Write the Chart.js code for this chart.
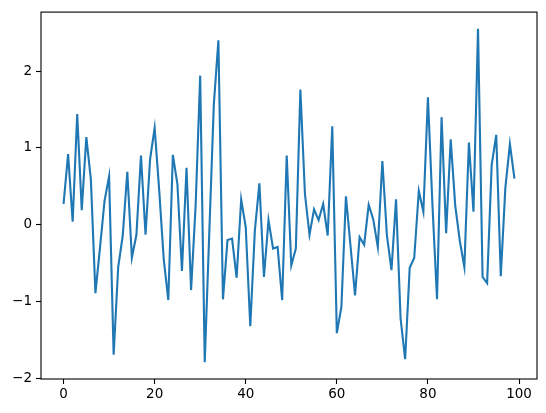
<!DOCTYPE html>
<html>
<head>
<meta charset="utf-8">
<script src="https://cdn.jsdelivr.net/npm/chart.js@4"></script>
<style>
  html, body { margin: 0; padding: 0; background: #fff; }
  #wrap { width: 546px; height: 413px; }
</style>
</head>
<body>
<div id="wrap"><canvas id="chart"></canvas></div>
<script>
// values, one per index 0..99
const values = [
  0.27, 0.92, 0.04, 1.44, 0.19, 1.14, 0.59, -0.89, -0.30, 0.31,
  0.63, -1.69, -0.55, -0.14, 0.69, -0.43, -0.13, 0.90, -0.13, 0.85,
  1.26, 0.45, -0.45, -0.98, 0.91, 0.53, -0.60, 0.74, -0.85, 0.25,
  1.94, -1.79, -0.10, 1.57, 2.40, -0.97, -0.20, -0.18, -0.69, 0.33,
  -0.03, -1.32, -0.08, 0.54, -0.68, 0.06, -0.31, -0.29, -0.98, 0.90,
  -0.53, -0.31, 1.76, 0.40, -0.13, 0.20, 0.06, 0.27, -0.14, 1.28,
  -1.41, -1.07, 0.37, -0.27, -0.92, -0.16, -0.26, 0.26, 0.07, -0.29,
  0.83, -0.14, -0.59, 0.33, -1.22, -1.75, -0.56, -0.43, 0.44, 0.17,
  1.66, 0.25, -0.97, 1.40, -0.11, 1.11, 0.25, -0.21, -0.55, 1.07,
  0.17, 2.55, -0.68, -0.76, 0.78, 1.17, -0.67, 0.48, 1.05, 0.60
];
const xTicks = [0, 20, 40, 60, 80, 100];
const yTicks = [-2, -1, 0, 1, 2];

const points = values.map((v, i) => ({ x: i, y: v }));
const fmt = v => String(v).replace('-', '\u2212');

// matplotlib style frame on all four sides
const framePlugin = {
  id: 'frame',
  afterDraw(chart) {
    const { ctx, chartArea: a } = chart;
    ctx.save();
    ctx.strokeStyle = '#000';
    ctx.lineWidth = 1.1;
    ctx.strokeRect(a.left, a.top, a.right - a.left, a.bottom - a.top);
    ctx.restore();
  }
};

const axisFont = { family: 'DejaVu Sans', size: 13.5 };

new Chart(document.getElementById('chart'), {
  type: 'line',
  data: {
    datasets: [{
      data: points,
      borderColor: '#1f77b4',
      borderWidth: 2.1,
      pointRadius: 0,
      tension: 0,
      fill: false
    }]
  },
  options: {
    responsive: true,
    maintainAspectRatio: false,
    animation: false,
    devicePixelRatio: 1,
    layout: { padding: { top: 8, right: 9, left: 0, bottom: 0 } },
    plugins: {
      legend: { display: false },
      tooltip: { enabled: false }
    },
    scales: {
      x: {
        type: 'linear',
        min: -4.95,
        max: 103.95,
        afterBuildTicks: s => { s.ticks = xTicks.map(v => ({ value: v })); },
        afterFit: s => { s.height = 34; },
        grid: {
          drawOnChartArea: false,
          drawTicks: true,
          tickLength: 5,
          tickColor: '#000',
          tickWidth: 1.1
        },
        border: { display: false },
        ticks: {
          color: '#000',
          font: axisFont,
          padding: 2,
          maxRotation: 0,
          callback: v => fmt(v)
        }
      },
      y: {
        min: -2.007,
        max: 2.767,
        afterBuildTicks: s => { s.ticks = yTicks.map(v => ({ value: v })); },
        afterFit: s => { s.width = 41; },
        grid: {
          drawOnChartArea: false,
          drawTicks: true,
          tickLength: 5,
          tickColor: '#000',
          tickWidth: 1.1
        },
        border: { display: false },
        ticks: {
          color: '#000',
          font: axisFont,
          padding: 4,
          callback: v => fmt(v)
        }
      }
    }
  },
  plugins: [framePlugin]
});
</script>
</body>
</html>
